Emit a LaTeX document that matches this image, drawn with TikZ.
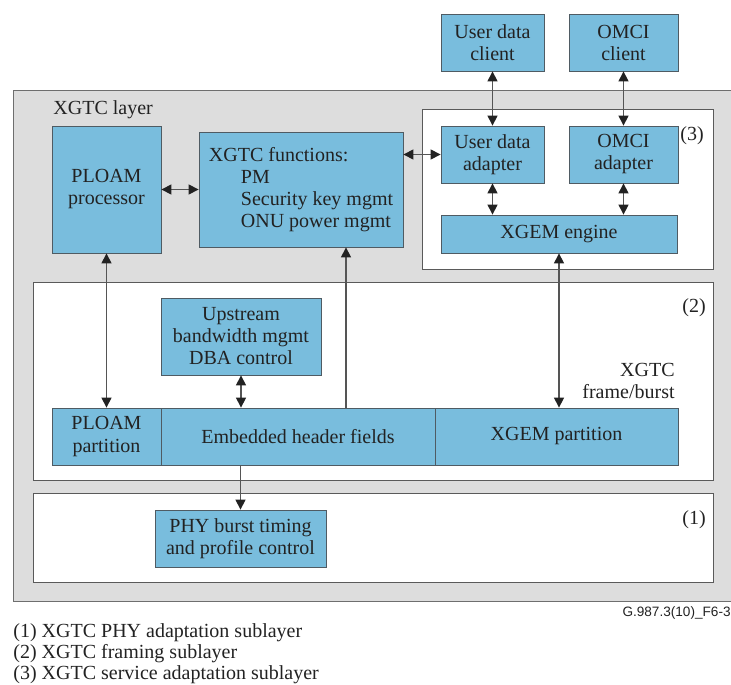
\documentclass[tikz,border=0pt]{standalone}
\usepackage{fontspec}
\setmainfont{Liberation Serif}
\newfontfamily\figsans{Liberation Sans}
\usetikzlibrary{arrows.meta}

\definecolor{blkfill}{HTML}{79BDDD}
\definecolor{blkline}{HTML}{4F5B63}
\definecolor{subline}{HTML}{5A5A5A}
\definecolor{layerbg}{HTML}{DDDDDD}
\definecolor{frameline}{HTML}{6E6E6E}
\definecolor{linkc}{HTML}{555555}
\definecolor{tipc}{HTML}{222222}
\definecolor{txt}{HTML}{222222}

\tikzset{
  area/.style n args={4}{at={({(#1+#3)/2},{(#2+#4)/2})},
    minimum width={(#3-#1)*0.5pt}, minimum height={(#4-#2)*0.5pt}},
  blk/.style={draw=blkline, fill=blkfill, inner sep=0pt, align=center, text=txt},
  sub/.style={draw=subline, fill=white, inner sep=0pt},
  tag/.style={text=txt, inner sep=0pt},
  both/.style={draw=linkc, line width=0.6pt,
    {Triangle[width=5pt,length=5pt,color=tipc]}-{Triangle[width=5pt,length=5pt,color=tipc]}},
  tohead/.style={draw=linkc, line width=0.6pt, -{Triangle[width=5pt,length=5pt,color=tipc]}},
}

\begin{document}
\begin{tikzpicture}[x=0.5pt,y=-0.5pt,font=\fontsize{10}{11}\selectfont]
\useasboundingbox (0,0) rectangle (731,684);

% XGTC layer and sublayers
\node[area={13}{90}{736}{601}, draw=frameline, fill=layerbg, inner sep=0pt] (layer) {};
\node[tag, anchor=base west] (layertxt) at (53,115) {XGTC layer};

\node[sub, area={422}{109}{713}{269}] (svcsub) {};
\node[sub, area={33}{282}{713}{480}] (frmsub) {};
\node[sub, area={33}{493}{713}{582}] (physub) {};

\node[tag] (svcnum) at (692,136) {(3)};
\node[tag] (frmnum) at (694,308) {(2)};
\node[tag] (phynum) at (694,520) {(1)};

% clients
\node[blk, area={441}{14}{544}{71}] (udclient) {User data\\client};
\node[blk, area={569}{14}{678}{71}] (omciclient) {OMCI\\client};

% service adaptation
\node[blk, area={441}{126}{544}{183}] (udadapt) {User data\\adapter};
\node[blk, area={569}{126}{678}{183}] (omciadapt) {OMCI\\adapter};
\node[blk, area={441}{215}{677}{253}] (xgemeng) {XGEM engine};

\node[blk, area={52}{126}{161}{253}] (ploamproc) {PLOAM\\processor};
\node[blk, area={199}{132}{403}{247}, align=left] (xgtcfunc)
  {XGTC functions:\\\hspace*{16pt}PM\\\hspace*{16pt}Security key mgmt\\\hspace*{16pt}ONU power mgmt};

% framing
\node[blk, area={161}{298}{321}{375}] (upstream) {Upstream\\bandwidth mgmt\\DBA control};
\node[tag, align=right, anchor=east] (frmtxt) at (675,381) {XGTC\\frame/burst};

\node[blk, area={52}{408}{161}{465}] (ploampart) {PLOAM\\partition};
\node[blk, area={161}{408}{435}{465}] (embhdr) {Embedded header fields};
\node[blk, area={435}{408}{678}{465}] (xgempart) {XGEM partition};

% PHY adaptation
\node[blk, area={155}{510}{326}{567}] (phyctl) {PHY burst timing\\and profile control};

% connectors
\coordinate (fnx) at (346,0);
\draw[both] (udclient.south) -- (udadapt.north);
\draw[both] (omciclient.south) -- (omciadapt.north);
\draw[both] (udadapt.south) -- (udadapt.south |- xgemeng.north);
\draw[both] (omciadapt.south) -- (omciadapt.south |- xgemeng.north);
\draw[both] (ploamproc.east) -- (ploamproc.east -| xgtcfunc.west);
\draw[both] (udadapt.west) -- (udadapt.west -| xgtcfunc.east);
\draw[both] (ploamproc.south) -- (ploampart.north);
\draw[tohead] (embhdr.north -| fnx) -- (xgtcfunc.south -| fnx);
\draw[both] (xgemeng.south) -- (xgemeng.south |- xgempart.north);
\draw[both] (upstream.south) -- (upstream.south |- embhdr.north);
\draw[tohead] (phyctl.north |- embhdr.south) -- (phyctl.north);

% figure id and legend
\node[tag, anchor=east, font=\figsans\fontsize{6.8}{8}\selectfont] (figid) at (731,613) {G.987.3(10)\_F6-3};
\node[tag, anchor=base west] (leg1) at (13,637) {(1) XGTC PHY adaptation sublayer};
\node[tag, anchor=base west] (leg2) at (13,658) {(2) XGTC framing sublayer};
\node[tag, anchor=base west] (leg3) at (13,679) {(3) XGTC service adaptation sublayer};
\end{tikzpicture}
\end{document}
